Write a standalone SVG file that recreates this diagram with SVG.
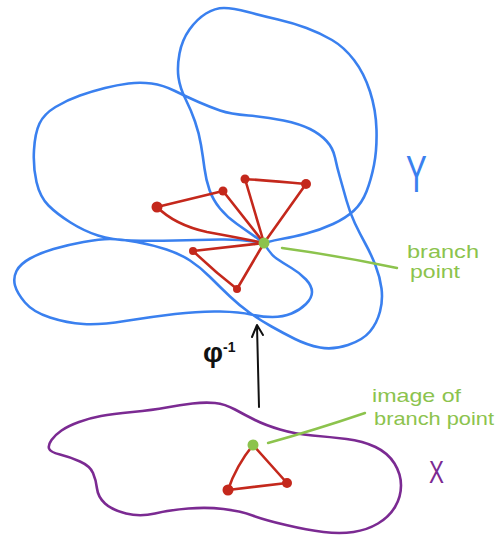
<svg xmlns="http://www.w3.org/2000/svg" width="496" height="537" viewBox="0 0 496 537">
<style>
.blue{fill:none;stroke:#3a80ef;stroke-width:2.6;stroke-linecap:round;stroke-linejoin:round}
.purple{fill:none;stroke:#7b2a92;stroke-width:2.6;stroke-linecap:round;stroke-linejoin:round}
.red{fill:none;stroke:#c4281c;stroke-width:2.6;stroke-linecap:round;stroke-linejoin:round}
.reddot{fill:#c4281c}
.greendot{fill:#8cc34d}
.gline{fill:none;stroke:#8cc34d;stroke-width:2.4;stroke-linecap:round}
.glabel{fill:#8cc34d;font-family:"Liberation Sans",sans-serif}
.arrow{fill:none;stroke:#111;stroke-width:2;stroke-linecap:round;stroke-linejoin:round}
</style>
<rect width="496" height="537" fill="#fff"/>
<g id="surface-Y">
<path class="blue" d="M264,243 Q275,240 284,238.5 Q293,237 306.5,233.5 Q320,230 333,224 Q346,218 354,210.5 Q362,203 366.5,191.5 Q371,180 374,165 Q377,150 376.5,130 Q376,110 370,91.5 Q364,73 354,60 Q344,47 332,40 Q320,33 306.5,28 Q293,23 278,19.5 Q263,16 248,12 Q233,8 224,8 Q215,8 206,13.5 Q197,19 189.5,29.5 Q182,40 179.5,53.5 Q177,67 178.5,77.5 Q180,88 185.5,99 Q191,110 195,121.5 Q199,133 201,145 Q203,157 204.5,168.5 Q206,180 209.5,190 Q213,200 220,208.5 Q227,217 237,224 Q247,231 264,243"/>
<path class="blue" d="M264,243 Q240,239 220,239.5 Q200,240 175,240.5 Q150,241 131,240.5 Q112,240 98,235.5 Q84,231 70.5,222.5 Q57,214 48.5,205.5 Q40,197 36.5,182 Q33,167 34,150 Q35,133 39.5,123.5 Q44,114 55.5,107 Q67,100 80,95.5 Q93,91 105,88 Q117,85 128.5,83.5 Q140,82 151.5,83.5 Q163,85 175,91 Q187,97 198.5,102 Q210,107 220,110.5 Q230,114 248.5,115.5 Q267,117 283.5,120.5 Q300,124 310,129 Q320,134 326.5,141 Q333,148 335,157.5 Q337,167 340,177.5 Q343,188 346.5,200.5 Q350,213 355,223.5 Q360,234 365.5,244 Q371,254 375.5,265.5 Q380,277 381.5,288.5 Q383,300 380,311.5 Q377,323 370,331.5 Q363,340 348,345 Q333,350 320,347.5 Q307,345 295,339 Q283,333 271.5,326.5 Q260,320 250,313 Q240,306 230,296.5 Q220,287 210,277 Q200,267 190,260.5 Q180,254 166.5,249.5 Q153,245 136.5,242 Q120,239 110,239 Q100,239 83.5,242 Q67,245 53.5,249 Q40,253 30,258.5 Q20,264 16.5,271 Q13,278 15,285.5 Q17,293 25,302.5 Q33,312 50,317.5 Q67,323 83.5,324 Q100,325 125,321 Q150,317 175,314 Q200,311 220,311.5 Q240,312 251,314.5 Q262,317 272.5,317 Q283,317 291.5,313.5 Q300,310 306,304 Q312,298 312,292 Q312,286 306,279.5 Q300,273 291.5,268 Q283,263 276.5,258.5 Q270,254 264,243"/>
<text x="0" y="0" transform="translate(406,192) scale(0.6,1)" style="fill:#3a80ef;font-family:'Liberation Sans',sans-serif;font-size:52px">Y</text>
</g>
<g id="preimage-triangles">
<path class="red" d="M157,207 L223,191 L264,243"/>
<path class="red" d="M157,207 Q175,225 207,232 Q240,238 264,243"/>
<path class="red" d="M245,179 Q273,181 306,184 L264,243 Z"/>
<path class="red" d="M193,251 L264,243 L237,289 Q215,272 193,251 Z"/>
<circle class="reddot" cx="157" cy="207" r="5.5"/>
<circle class="reddot" cx="223" cy="191" r="4.5"/>
<circle class="reddot" cx="245" cy="179" r="4.5"/>
<circle class="reddot" cx="306" cy="184" r="5"/>
<circle class="reddot" cx="193" cy="251" r="4"/>
<circle class="reddot" cx="237" cy="289" r="4"/>
</g>
<g id="branch-point">
<circle class="greendot" cx="264" cy="243" r="5.5"/>
<text class="glabel" x="407" y="258" font-size="17.5" textLength="72" lengthAdjust="spacingAndGlyphs">branch</text>
<text class="glabel" x="410" y="278" font-size="17.5" textLength="50" lengthAdjust="spacingAndGlyphs">point</text>
</g>
<g id="surface-X">
<path class="purple" d="M49,448.5 Q48,445 51.5,440 Q55,435 61.5,430.5 Q68,426 79,422 Q90,418 101,416 Q112,414 132.5,412 Q153,410 166.5,407.5 Q180,405 192.5,403.5 Q205,402 215,403 Q225,404 235,409.5 Q245,415 255,420 Q265,425 280,429.5 Q295,434 312.5,435.5 Q330,437 346.5,439 Q363,441 375.5,447 Q388,453 394.5,463.5 Q401,474 401,485.5 Q401,497 395,507 Q389,517 378,523.5 Q367,530 353.5,532 Q340,534 323.5,532 Q307,530 286,525 Q265,520 252.5,515.5 Q240,511 223.5,509 Q207,507 188.5,508.5 Q170,510 155,513.5 Q140,517 126,513.5 Q112,510 105,503.5 Q98,497 97,488.5 Q96,480 93,473 Q90,466 80,461.5 Q70,457 60,454.5 Q50,452 49,448.5 Z"/>
<text x="0" y="0" transform="translate(429,483) scale(0.7,1)" style="fill:#7b2a92;font-family:'Liberation Sans',sans-serif;font-size:32px">X</text>
</g>
<g id="image-triangle">
<path class="red" d="M253,445 Q236,466 228,490 L287,483 Z"/>
<circle class="reddot" cx="228" cy="490" r="5.5"/>
<circle class="reddot" cx="287" cy="483" r="5"/>
</g>
<g id="image-of-branch-point">
<circle class="greendot" cx="253" cy="445" r="5.5"/>
<text class="glabel" x="372" y="402" font-size="19" textLength="89" lengthAdjust="spacingAndGlyphs">image of</text>
<text class="glabel" x="374" y="425" font-size="19" textLength="120" lengthAdjust="spacingAndGlyphs">branch point</text>
</g>
<g id="connectors">
<path class="gline" d="M282,248 Q340,256 397,268"/>
<path class="gline" d="M268,443 Q315,430 365,413"/>
<path class="arrow" d="M259,407 L257,326 M252,337 L257,325 L263,335"/>
<text x="203" y="362" style="fill:#111;font-family:'Liberation Sans',sans-serif;font-size:28px;font-weight:bold">φ<tspan dy="-10" font-size="14">-1</tspan></text>
</g>
</svg>
